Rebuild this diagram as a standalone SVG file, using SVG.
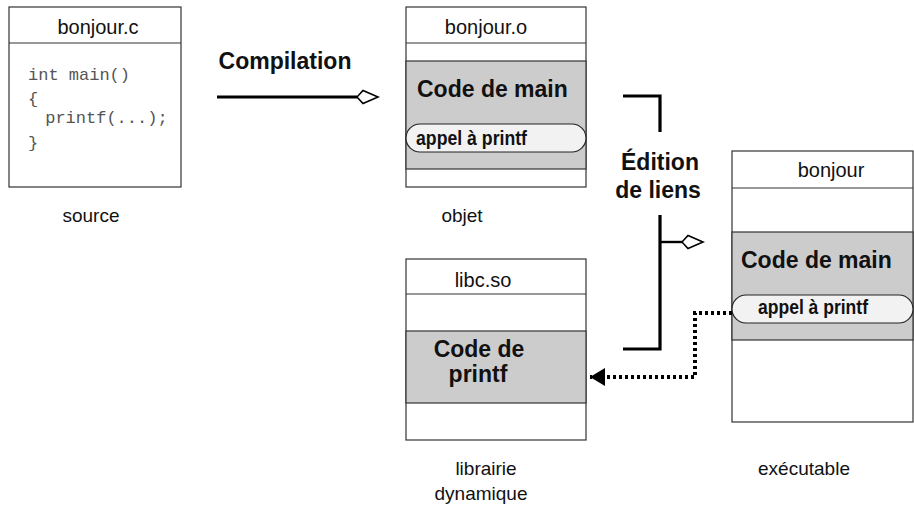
<svg xmlns="http://www.w3.org/2000/svg" width="914" height="508" viewBox="0 0 914 508">
<defs>
<style>
.box{fill:#fff;stroke:#333;stroke-width:1.2}
.sep{stroke:#333;stroke-width:1.2;fill:none}
.gray{fill:#cccccc;stroke:#333;stroke-width:1.2}
.pill{fill:#f2f2f2;stroke:#222;stroke-width:1.2}
.t{font-family:"Liberation Sans",Arial,sans-serif;font-size:19px;fill:#111;text-anchor:middle}
.h{font-size:20px}
.b{font-family:"Liberation Sans",Arial,sans-serif;font-size:23px;font-weight:bold;fill:#111}
.bs{font-family:"Liberation Sans",Arial,sans-serif;font-size:19.5px;font-weight:bold;fill:#111}
.m{font-family:"Liberation Mono","Courier New",monospace;font-size:17px;fill:#555}
.thick{stroke:#000;stroke-width:3.2;fill:none}
.dot{stroke:#000;stroke-width:4;fill:none;stroke-dasharray:3 3}
</style>
<marker id="open" markerUnits="userSpaceOnUse" markerWidth="24" markerHeight="18" refX="0" refY="8" orient="auto" overflow="visible">
<path d="M0,8 L6,1.5 L21,8 L6,14.5 Z" fill="#fff" stroke="#000" stroke-width="1.6"/>
</marker>
<marker id="solid" markerUnits="userSpaceOnUse" markerWidth="18" markerHeight="20" refX="15" refY="9" orient="auto" overflow="visible">
<path d="M0,0 L15,9 L0,18 Z" fill="#000"/>
</marker>
</defs>

<g id="source">
<rect class="box" x="9" y="7" width="172" height="180"/>
<line class="sep" x1="9" y1="43" x2="181" y2="43"/>
<text class="t h" x="98" y="34">bonjour.c</text>
<text class="m" x="28" y="80">int main()</text>
<text class="m" x="28" y="104">{</text>
<text class="m" x="35" y="123" xml:space="preserve"> printf(...);</text>
<text class="m" x="28" y="148">}</text>
<text class="t" x="91" y="222">source</text>
</g>

<g id="objet">
<rect class="box" x="406" y="7" width="180" height="180"/>
<line class="sep" x1="406" y1="43" x2="586" y2="43"/>
<rect class="gray" x="406" y="61" width="180" height="108"/>
<text class="t h" x="486" y="34">bonjour.o</text>
<text class="b" x="417" y="97">Code de main</text>
<rect class="pill" x="406" y="124" width="180" height="28" rx="14" ry="14"/>
<text class="bs" x="416" y="145" textLength="111" lengthAdjust="spacingAndGlyphs">appel à printf</text>
<text class="t" x="462" y="222">objet</text>
</g>

<g id="libc">
<rect class="box" x="406" y="259" width="180" height="181"/>
<line class="sep" x1="406" y1="294" x2="586" y2="294"/>
<rect class="gray" x="406" y="331" width="180" height="72"/>
<text class="t h" x="483" y="287">libc.so</text>
<text class="b" x="479" y="357" text-anchor="middle">Code de</text>
<text class="b" x="478" y="382" text-anchor="middle">printf</text>
<text class="t" x="486" y="475">librairie</text>
<text class="t" x="481" y="500">dynamique</text>
</g>

<g id="executable">
<rect class="box" x="732" y="151" width="181" height="271"/>
<line class="sep" x1="732" y1="188" x2="913" y2="188"/>
<rect class="gray" x="732" y="232" width="181" height="108"/>
<text class="t h" x="831" y="177">bonjour</text>
<text class="b" x="741" y="268">Code de main</text>
<rect class="pill" x="732" y="295" width="181" height="28" rx="14" ry="14"/>
<text class="bs" x="758" y="314" textLength="110" lengthAdjust="spacingAndGlyphs">appel à printf</text>
<text class="t" x="804" y="475">exécutable</text>
</g>

<g id="labels">
<text class="b" x="285" y="69" text-anchor="middle">Compilation</text>
<text class="b" x="660" y="170" text-anchor="middle">Édition</text>
<text class="b" x="658" y="198" text-anchor="middle">de liens</text>
</g>

<g id="connectors">
<line class="thick" x1="217" y1="97" x2="357" y2="97" marker-end="url(#open)"/>
<path class="thick" d="M623,96 H660 V132"/>
<path class="thick" d="M660,215 V349 H623"/>
<line stroke="#000" stroke-width="2.4" x1="660" y1="242" x2="682" y2="242" marker-end="url(#open)"/>
<path class="dot" d="M732,313 H695 V377 H590" marker-end="url(#solid)"/>
</g>
</svg>
